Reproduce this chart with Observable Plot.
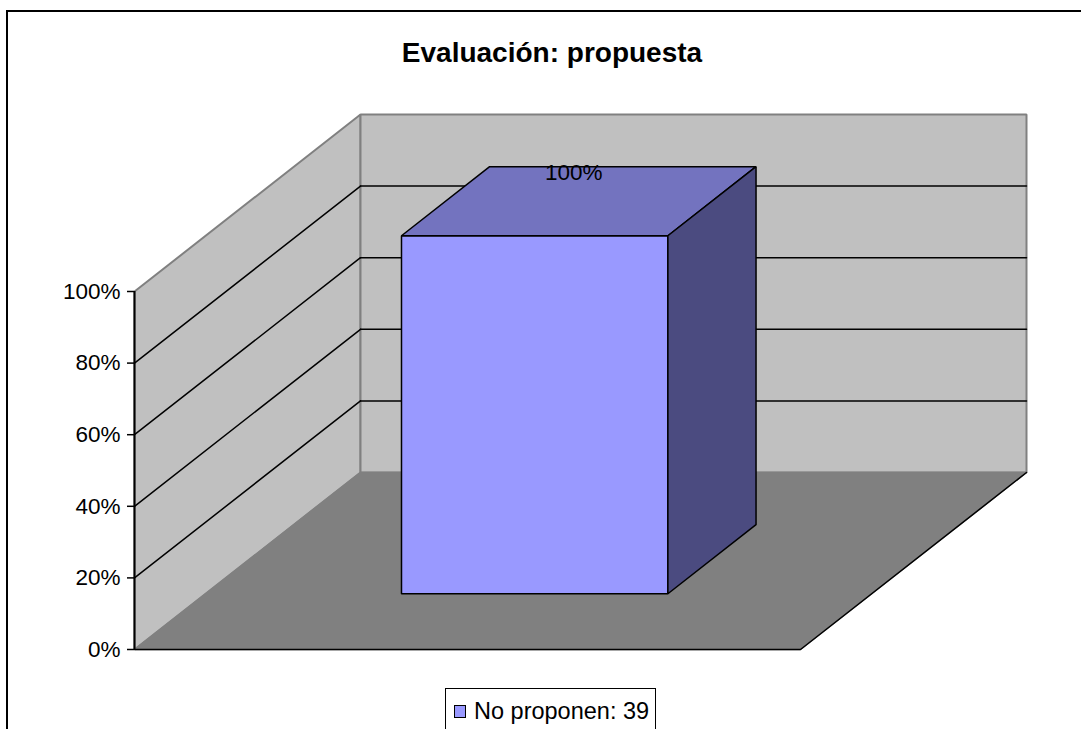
<!DOCTYPE html>
<html>
<head>
<meta charset="utf-8">
<script src="https://cdn.jsdelivr.net/npm/d3@7"></script>
<script src="https://cdn.jsdelivr.net/npm/@observablehq/plot@0.6"></script>
<style>
  html, body { margin: 0; padding: 0; background: #fff; }
  #wrap { position: relative; width: 1081px; height: 729px; overflow: hidden; background: #fff;
          font-family: Arial, "Liberation Sans", sans-serif; }
  #border { position: absolute; left: 6px; top: 10px; width: 1200px; height: 900px; border: 2px solid #000; box-sizing: border-box; }
  #chart { position: absolute; left: 0; top: 0; }
  #title { position: absolute; left: 0; width: 1104px; top: 37px; text-align: center;
           font-weight: bold; font-size: 28px; color: #000; }
  #legend { position: absolute; left: 445px; top: 688px; height: 60px; border: 1px solid #000;
            padding: 9px 6px 0 8px; font-size: 23.5px; color: #000; white-space: nowrap; background: #fff; }
  #legend .sw { display: inline-block; width: 10px; height: 11px; border: 1px solid #000; margin-right: 8px; vertical-align: 1px; }
</style>
</head>
<body>
<div id="wrap">
  <div id="border"></div>
  <div id="chart"></div>
  <div id="title"></div>
  <div id="legend"></div>
</div>
<script>
// ---- data ----
const title = "Evaluación: propuesta";
const categories = ["No proponen"];
const values = [1.0];          // share (100%)
const counts = [39];
const yTicks = [0, 0.2, 0.4, 0.6, 0.8, 1.0];
const gridTicks = [0.2, 0.4, 0.6, 0.8];

// ---- 3D layout (pseudo-perspective) ----
const FRONT_W = 666, UNIT_H = 358;         // px for unit width / 100%
const DEPTH_PX = [226, 177];               // depth offset in px
const DX = DEPTH_PX[0] / FRONT_W, DY = DEPTH_PX[1] / UNIT_H;
const X0 = 134, Y0 = 649;
const zFront = 0.315, zBack = 0.705;
const colors = { wall: "#C0C0C0", wallEdge: "#808080", floor: "#808080",
                 front: "#9999FF", top: "#7373BF", side: "#4B4B80" };

const band = d3.scaleBand().domain(categories).range([0, 1]).paddingInner(0.6).paddingOuter(0.3).align(0.49);
const P = (x, v, z) => ({ x: x + z * DX, y: v + z * DY });

const leftWall = [P(0,0,0), P(0,1,0), P(0,1,1), P(0,0,1)];
const backWall = [P(0,0,1), P(1,0,1), P(1,1,1), P(0,1,1)];
const floor = [P(0,0,0), P(1,0,0), P(1,0,1), P(0,0,1)];
const floorFrontEdge = [P(0,0,0), P(1,0,0), P(1,0,1)];

const leftGrid = gridTicks.flatMap(t => [{...P(0,t,0), g: t}, {...P(0,t,1), g: t}]);
const backGrid = gridTicks.flatMap(t => [{...P(0,t,1), g: t}, {...P(1,t,1), g: t}]);

const bars = categories.map((c, i) => {
  const x0 = band(c), x1 = band(c) + band.bandwidth(), v = values[i];
  return {
    front: [P(x0,0,zFront), P(x1,0,zFront), P(x1,v,zFront), P(x0,v,zFront)],
    top:   [P(x0,v,zFront), P(x1,v,zFront), P(x1,v,zBack), P(x0,v,zBack)],
    side:  [P(x1,0,zFront), P(x1,0,zBack), P(x1,v,zBack), P(x1,v,zFront)],
    label: {...P((x0 + x1) / 2, v, zBack), text: d3.format(".0%")(v)}
  };
});

const poly = (pts, fill, stroke, sw = 1.5) =>
  Plot.line(pts, {x: "x", y: "y", curve: "linear-closed", fill, stroke, strokeWidth: sw, strokeLinejoin: "miter"});

const marks = [
  poly(leftWall, colors.wall, colors.wallEdge, 2),
  poly(backWall, colors.wall, colors.wallEdge, 2),
  poly(floor, colors.floor, colors.wallEdge, 1.5),
  Plot.line(floorFrontEdge, {x: "x", y: "y", stroke: "#000", strokeWidth: 1.5}),
  Plot.line(leftGrid, {x: "x", y: "y", z: "g", stroke: "#000", strokeWidth: 1.5}),
  Plot.line(backGrid, {x: "x", y: "y", z: "g", stroke: "#000", strokeWidth: 1.5}),
  Plot.ruleX([0], {y1: 0, y2: 1, stroke: "#000", strokeWidth: 2}),
  Plot.axisY(yTicks, {anchor: "left", tickFormat: d3.format(".0%"), tickSize: 7, tickPadding: 7,
                      fontSize: 22.5, label: null, stroke: "#000", strokeWidth: 1.5}),
  ...bars.flatMap(b => [
    poly(b.front, colors.front, "#000"),
    poly(b.top, colors.top, "#000"),
    poly(b.side, colors.side, "#000"),
    Plot.text([b.label], {x: "x", y: "y", text: "text", dx: -49, dy: 6, fontSize: 22.5, fill: "#000"})
  ])
];

const chart = Plot.plot({
  width: 1081, height: 729,
  marginLeft: X0, marginTop: 0, marginRight: 0, marginBottom: 0,
  style: {fontFamily: 'Arial, "Liberation Sans", sans-serif', color: "#000", background: "transparent", overflow: "visible"},
  x: {type: "linear", domain: [0, 1 + DX], range: [X0, X0 + FRONT_W * (1 + DX)], axis: null},
  y: {type: "linear", domain: [0, 1 + DY], range: [Y0, Y0 - UNIT_H * (1 + DY)], axis: null},
  marks
});
document.getElementById("chart").appendChild(chart);
document.getElementById("title").textContent = title;
document.getElementById("legend").innerHTML = categories.map((c, i) =>
  `<span class="sw" style="background:${colors.front}"></span>${c}: ${counts[i]}`).join(" ");
</script>
</body>
</html>
